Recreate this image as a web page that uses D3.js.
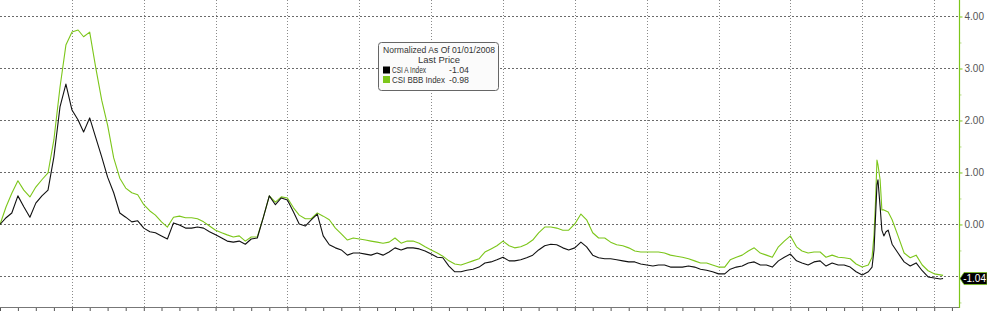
<!DOCTYPE html>
<html><head><meta charset="utf-8">
<script src="https://cdn.jsdelivr.net/npm/d3@7"></script>
<style>body{margin:0;background:#fff}svg{display:block}</style>
</head><body>
<svg id="c" width="987" height="311"></svg>
<script>
const dates = [
"2008-01-01","2008-02-01","2008-03-01","2008-04-01","2008-05-01","2008-06-01","2008-07-01","2008-08-01","2008-09-01","2008-10-01","2008-11-01","2008-12-01",
"2009-01-01","2009-02-01","2009-03-01","2009-04-01","2009-05-01","2009-06-01","2009-07-01","2009-08-01","2009-09-01","2009-10-01","2009-11-01","2009-12-01",
"2010-01-01","2010-02-01","2010-03-01","2010-04-01","2010-05-01","2010-06-01","2010-07-01","2010-08-01","2010-09-01","2010-10-01","2010-11-01","2010-12-01",
"2011-01-01","2011-02-01","2011-03-01","2011-04-01","2011-05-01","2011-06-01","2011-07-01","2011-08-01","2011-09-01","2011-10-01","2011-11-01","2011-12-01",
"2012-01-01","2012-02-01","2012-03-01","2012-04-01","2012-05-01","2012-06-01","2012-07-01","2012-08-01","2012-09-01","2012-10-01","2012-11-01","2012-12-01",
"2013-01-01","2013-02-01","2013-03-01","2013-04-01","2013-05-01","2013-06-01","2013-07-01","2013-08-01","2013-09-01","2013-10-01","2013-11-01","2013-12-01",
"2014-01-01","2014-02-01","2014-03-01","2014-04-01","2014-05-01","2014-06-01","2014-07-01","2014-08-01","2014-09-01","2014-10-01","2014-11-01","2014-12-01",
"2015-01-01","2015-02-01","2015-03-01","2015-04-01","2015-05-01","2015-06-01","2015-07-01","2015-08-01","2015-09-01","2015-10-01","2015-11-01","2015-12-01",
"2016-01-01","2016-02-01","2016-03-01","2016-04-01","2016-05-01","2016-06-01","2016-07-01","2016-08-01","2016-09-01","2016-10-01","2016-11-01","2016-12-01",
"2017-01-01","2017-02-01","2017-03-01","2017-04-01","2017-05-01","2017-06-01","2017-07-01","2017-08-01","2017-09-01","2017-10-01","2017-11-01","2017-12-01",
"2018-01-01","2018-02-01","2018-03-01","2018-04-01","2018-05-01","2018-06-01","2018-07-01","2018-08-01","2018-09-01","2018-10-01","2018-11-01","2018-12-01",
"2019-01-01","2019-02-01","2019-03-01","2019-04-01","2019-05-01","2019-06-01","2019-07-01","2019-08-01","2019-09-01","2019-10-01","2019-11-01","2019-12-01",
"2020-01-01","2020-02-01","2020-02-20","2020-03-01","2020-03-09","2020-03-16","2020-03-21","2020-04-01","2020-04-10","2020-04-20","2020-05-01","2020-05-12",
"2020-06-01","2020-07-01","2020-08-01","2020-09-01","2020-10-01","2020-11-01","2020-12-01","2021-01-01","2021-02-01","2021-02-15"
];
const csiA = [
0.00,0.13,0.22,0.55,0.34,0.14,0.41,0.55,0.66,1.30,2.26,2.70,
2.20,2.01,1.78,2.05,1.68,1.30,0.91,0.61,0.22,0.14,0.05,0.07,
-0.07,-0.14,-0.16,-0.22,-0.28,0.03,-0.01,-0.07,-0.07,-0.05,-0.07,-0.14,
-0.20,-0.26,-0.32,-0.34,-0.32,-0.38,-0.28,-0.26,0.14,0.55,0.38,0.51,
0.47,0.24,0.01,-0.03,0.09,0.20,-0.22,-0.39,-0.45,-0.49,-0.59,-0.55,
-0.55,-0.57,-0.59,-0.55,-0.59,-0.53,-0.45,-0.49,-0.45,-0.45,-0.47,-0.51,
-0.57,-0.63,-0.64,-0.80,-0.91,-0.91,-0.88,-0.86,-0.82,-0.74,-0.72,-0.68,
-0.63,-0.70,-0.70,-0.68,-0.64,-0.59,-0.49,-0.41,-0.38,-0.39,-0.45,-0.49,
-0.45,-0.34,-0.43,-0.59,-0.64,-0.66,-0.66,-0.68,-0.70,-0.72,-0.72,-0.76,
-0.78,-0.80,-0.78,-0.78,-0.82,-0.82,-0.82,-0.80,-0.82,-0.86,-0.88,-0.91,
-0.95,-0.95,-0.86,-0.82,-0.80,-0.74,-0.72,-0.78,-0.78,-0.82,-0.70,-0.63,
-0.57,-0.70,-0.74,-0.78,-0.72,-0.70,-0.80,-0.74,-0.78,-0.78,-0.82,-0.91,
-0.97,-0.91,-0.82,-0.49,0.18,0.76,0.86,0.34,-0.11,-0.22,-0.14,-0.11,
-0.38,-0.55,-0.72,-0.80,-0.74,-0.89,-1.01,-1.03,-1.05,-1.04
];
const csiBBB = [
0.00,0.34,0.60,0.84,0.66,0.53,0.72,0.86,0.99,1.63,2.64,3.45,
3.70,3.74,3.61,3.70,3.03,2.39,1.91,1.28,0.89,0.70,0.61,0.57,
0.38,0.26,0.18,0.05,-0.05,0.14,0.16,0.13,0.13,0.11,0.05,-0.03,
-0.11,-0.16,-0.20,-0.24,-0.22,-0.32,-0.24,-0.24,0.14,0.55,0.43,0.53,
0.51,0.32,0.18,0.11,0.11,0.22,0.16,0.09,-0.07,-0.18,-0.30,-0.26,
-0.28,-0.30,-0.32,-0.34,-0.36,-0.34,-0.26,-0.36,-0.32,-0.32,-0.36,-0.43,
-0.49,-0.55,-0.61,-0.70,-0.76,-0.78,-0.74,-0.70,-0.66,-0.53,-0.47,-0.41,
-0.32,-0.41,-0.45,-0.43,-0.38,-0.30,-0.16,-0.05,-0.05,-0.07,-0.11,-0.11,
0.01,0.20,0.09,-0.16,-0.26,-0.26,-0.34,-0.39,-0.41,-0.45,-0.51,-0.53,
-0.53,-0.53,-0.53,-0.55,-0.59,-0.61,-0.63,-0.66,-0.70,-0.74,-0.74,-0.78,
-0.82,-0.82,-0.68,-0.63,-0.59,-0.51,-0.45,-0.55,-0.59,-0.63,-0.43,-0.32,
-0.22,-0.43,-0.51,-0.55,-0.53,-0.53,-0.63,-0.59,-0.63,-0.64,-0.66,-0.76,
-0.82,-0.78,-0.63,-0.20,0.47,1.24,1.15,0.86,0.28,0.28,0.26,0.24,
0.09,-0.22,-0.55,-0.64,-0.59,-0.78,-0.89,-0.95,-0.97,-0.98
];
const yTickValues = [4, 3, 2, 1, 0];
const yGridValues = [4, 3, 2, 1, 0, -1];
const legendTitle = "Normalized As Of 01/01/2008";
const legendSub = "Last Price";
const seriesNames = ["CSI A Index", "CSI BBB Index"];
const lastValues = ["-1.04", "-0.98"];
const lastTag = "-1.04";

const GREEN = "#7cc61a";
const svg = d3.select("#c");
const parse = d3.timeParse("%Y-%m-%d");
const dd = dates.map(parse);
const plotR = 959, plotB = 307;
const x = d3.scaleTime().domain([new Date(2008,0,1), new Date(2021,4,7)]).range([0, plotR]);
const y = d3.scaleLinear().domain([-1.5875, 4.3173]).range([plotB, 0]);

// gridlines
svg.append("g").selectAll("line").data(x.ticks(d3.timeYear.every(1)).filter(d => x(d) > 5 && x(d) < plotR - 5))
  .join("line").attr("x1", d => Math.round(x(d)) + 0.5).attr("x2", d => Math.round(x(d)) + 0.5)
  .attr("y1", 0).attr("y2", plotB).attr("stroke", "#8a8a8a").attr("stroke-width", 1).attr("stroke-dasharray", "1,2");
svg.append("g").selectAll("line").data(yGridValues)
  .join("line").attr("x1", 0).attr("x2", plotR).attr("y1", d => Math.round(y(d)) + 0.5).attr("y2", d => Math.round(y(d)) + 0.5)
  .attr("stroke", "#6a6a6a").attr("stroke-width", 1).attr("stroke-dasharray", "2,2");

// x axis
const xAxis = d3.axisBottom(x).ticks(d3.timeMonth.every(3)).tickSize(4).tickFormat("");
const gx = svg.append("g").attr("transform", `translate(0,${plotB + 0.5})`).call(xAxis);
gx.select(".domain").remove();
gx.selectAll(".tick line").attr("stroke", "#555");
svg.append("line").attr("x1", 0).attr("x2", plotR).attr("y1", plotB + 0.5).attr("y2", plotB + 0.5).attr("stroke", "#777");

// lines
const line = d3.line().x((d, i) => x(dd[i])).y(d => y(d));
svg.append("path").datum(csiBBB).attr("d", line).attr("fill", "none").attr("stroke", GREEN).attr("stroke-width", 1.1).attr("stroke-linejoin", "round");
svg.append("path").datum(csiA).attr("d", line).attr("fill", "none").attr("stroke", "#111").attr("stroke-width", 1.1).attr("stroke-linejoin", "round");

// right axis
const yAxis = d3.axisRight(y).tickValues(yTickValues).tickSize(3).tickFormat(d3.format(".2f"));
const gy = svg.append("g").attr("transform", `translate(${plotR + 0.5},0)`).call(yAxis);
gy.select(".domain").remove();
gy.selectAll(".tick line").attr("stroke", GREEN);
gy.selectAll(".tick text").attr("x", 5).attr("fill", "#555").attr("font-family", "Liberation Sans, Arial, sans-serif").attr("font-size", 10);
const gyMinor = d3.axisRight(y).tickValues([3.5, 2.5, 1.5, 0.5, -0.5, -1.5]).tickSize(2).tickFormat("");
const gm = svg.append("g").attr("transform", `translate(${plotR + 0.5},0)`).call(gyMinor);
gm.select(".domain").remove();
gm.selectAll(".tick line").attr("stroke", "#b9df8a");
svg.append("line").attr("x1", plotR + 0.5).attr("x2", plotR + 0.5).attr("y1", 0).attr("y2", plotB + 1).attr("stroke", GREEN).attr("stroke-width", 1.2);

// last value tag
const ty = y(csiA[csiA.length - 1]);
const tag = svg.append("g");
tag.append("path").attr("d", `M${plotR + 1},${ty} L${plotR + 5},${ty - 6} L987,${ty - 6} L987,${ty + 6} L${plotR + 5},${ty + 6} Z`)
  .attr("fill", "#000").attr("stroke", GREEN).attr("stroke-width", 0.8);
tag.append("text").attr("x", 986).attr("y", ty + 3.5).attr("text-anchor", "end").attr("fill", "#fff")
  .attr("font-family", "Liberation Sans, Arial, sans-serif").attr("font-size", 10).text(lastTag);

// legend
const font = "Liberation Sans, Arial, sans-serif";
const lg = svg.append("g").attr("transform", "translate(378,42)");
lg.append("rect").attr("x", 0.5).attr("y", 0.5).attr("width", 120).attr("height", 48).attr("rx", 3)
  .attr("fill", "#fbfbfb").attr("stroke", "#666");
function lt(xp, yp, txt, len, anchor) {
  return lg.append("text").attr("x", xp).attr("y", yp).attr("text-anchor", anchor || "start")
    .attr("font-family", font).attr("font-size", 8.5).attr("fill", "#333")
    .attr("textLength", len).attr("lengthAdjust", "spacingAndGlyphs").text(txt);
}
lt(61, 11, legendTitle, 112, "middle");
lt(61, 21, legendSub, 42, "middle");
const colors = ["#000", GREEN];
const nameLens = [34, 53];
seriesNames.forEach((n, i) => {
  const yy = 31 + i * 9.5;
  lg.append("rect").attr("x", 5).attr("y", yy - 6.5).attr("width", 7).attr("height", 7).attr("fill", colors[i]);
  lt(14, yy, n, nameLens[i]);
  lt(71, yy, lastValues[i], 20);
});
</script>
</body></html>
